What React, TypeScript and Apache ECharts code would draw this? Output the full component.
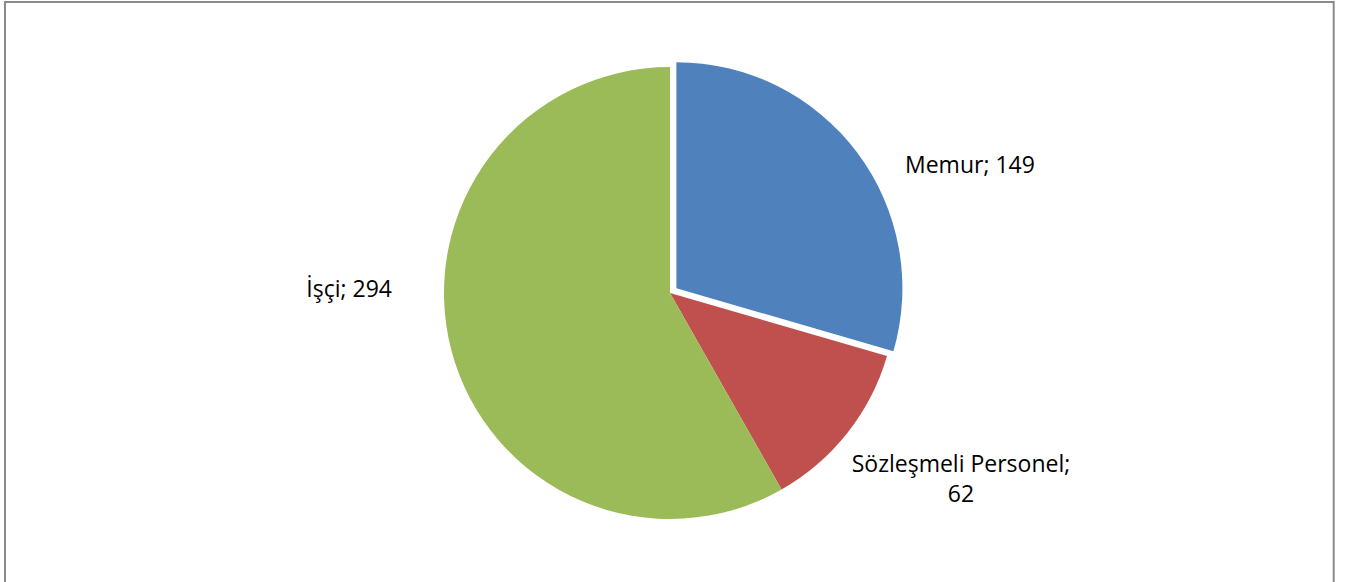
import React, { useEffect, useRef } from "react";
import * as echarts from "echarts";

const categories = ["Memur", "Sözleşmeli Personel", "İşçi"];
const values = [149, 62, 294];
const colors = ["#4F81BD", "#C0504D", "#9BBB59"];
const labelTexts = ["Memur; 149", "Sözleşmeli Personel;\n62", "İşçi; 294"];

export default function App() {
  const ref = useRef<HTMLDivElement>(null);
  useEffect(() => {
    if (!ref.current) return;
    const chart = echarts.init(ref.current, undefined, { renderer: "svg" });
    const labelPos: Record<number, any> = {
      0: { x: 905, y: 164, align: "left", verticalAlign: "middle" },
      1: { x: 961, y: 478, align: "center", verticalAlign: "middle" },
      2: { x: 392, y: 288, align: "right", verticalAlign: "middle" },
    };
    const common = {
      type: "pie",
      center: [670, 293],
      radius: [0, 226],
      startAngle: 90,
      clockwise: true,
      avoidLabelOverlap: false,
      emphasis: { disabled: true },
      labelLine: { show: false },
    };
    chart.setOption({
      animation: false,
      backgroundColor: "#ffffff",
      graphic: [
        {
          type: "rect",
          shape: { x: 5, y: 2, width: 1328.7, height: 700 },
          style: { fill: "none", stroke: "#8a8a8a", lineWidth: 2 },
          silent: true,
        },
      ],
      series: [
        {
          ...common,
          name: "pie",
          selectedMode: "single",
          selectedOffset: 8,
          label: { show: false },
          itemStyle: { borderWidth: 0 },
          data: categories.map((c, i) => ({
            name: c,
            value: values[i],
            selected: i === 0,
            itemStyle: { color: colors[i] },
          })),
        },
        {
          ...common,
          name: "labels",
          selectedMode: false,
          silent: true,
          itemStyle: { color: "rgba(0,0,0,0)", borderWidth: 0 },
          label: {
            show: true,
            position: "outside",
            fontFamily: "Open Sans",
            fontSize: 23,
            lineHeight: 30,
            color: "#000000",
            formatter: (p: any) => labelTexts[p.dataIndex],
          },
          labelLayout: (p: any) => labelPos[p.dataIndex],
          data: categories.map((c, i) => ({ name: c, value: values[i] })),
        },
      ],
    });
    return () => chart.dispose();
  }, []);
  return (
    <div
      ref={ref}
      style={{ position: "fixed", left: 0, top: 0, width: 1347, height: 582 }}
    />
  );
}
